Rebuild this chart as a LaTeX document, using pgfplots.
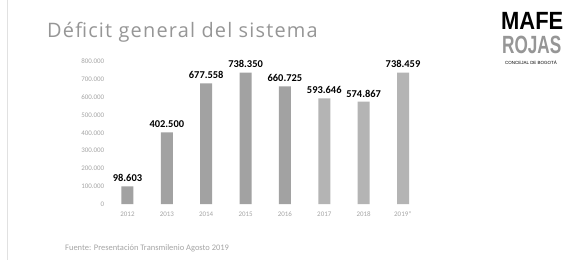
\documentclass[border=0pt]{standalone}
\usepackage{pgfplots}
\pgfplotsset{compat=1.18}
\usepackage{fontspec}
\setmainfont{Carlito}
\newfontfamily\titlefont[LetterSpace=6]{Open Sans}
\newfontfamily\logofont{Liberation Sans}
\definecolor{barA}{RGB}{162,162,162}
\definecolor{barB}{RGB}{180,180,180}
\definecolor{ticktxt}{RGB}{165,165,165}
\definecolor{titletxt}{RGB}{150,150,150}
\begin{document}
\begin{tikzpicture}
\path[use as bounding box, fill=white] (0,0) rectangle (571bp,260bp);
\draw[line width=1bp, draw={rgb,255:red,225;green,225;blue,225}] (7.5bp,0) -- (7.5bp,260bp);
\node[anchor=base west, inner sep=0, text=titletxt] at (47bp,222bp) {\titlefont\fontsize{20}{22}\selectfont Déficit general del sistema};
\node[anchor=base west, inner sep=0, xscale=0.88] at (501bp,230bp) {\logofont\bfseries\fontsize{25}{25}\selectfont MAFE};
\node[anchor=base west, inner sep=0, xscale=0.69, text={rgb,255:red,150;green,150;blue,150}] at (502bp,206bp) {\logofont\bfseries\fontsize{25}{25}\selectfont ROJAS};
\node[anchor=center, inner sep=0] at (531bp,197bp) {\logofont\fontsize{4.5}{5}\selectfont CONCEJAL DE BOGOTÁ};
\node[anchor=west, inner sep=0, text=ticktxt] at (65bp,12bp) {\fontsize{8.5}{10}\selectfont Fuente: Presentación Transmilenio Agosto 2019};
\begin{axis}[
  at={(107.8bp,56bp)}, anchor=south west,
  scale only axis, width=314.9bp, height=142.4bp,
  xmin=-0.5, xmax=7.5, ymin=0, ymax=800000,
  scaled y ticks=false,
  axis line style={draw=none}, major tick length=0pt,
  xtick={0,1,2,3,4,5,6,7},
  xticklabels={2012,2013,2014,2015,2016,2017,2018,2019*},
  ytick={0,100000,200000,300000,400000,500000,600000,700000,800000},
  yticklabels={0,100.000,200.000,300.000,400.000,500.000,600.000,700.000,800.000},
  tick label style={font=\fontsize{7}{8}\selectfont, text=ticktxt},
  yticklabel style={anchor=east},
  xticklabel style={yshift=-4bp},
  ybar, bar width=12bp,
  nodes near coords, point meta=explicit symbolic,
  every node near coord/.append style={font=\bfseries\fontsize{10.5}{12}\selectfont, text=black, yshift=1bp},
  clip=false,
]
\addplot[fill=barA, draw=none, bar shift=0pt] coordinates {
  (0,98603) [98.603]
  (1,402500) [402.500]
  (2,677558) [677.558]
  (3,738350) [738.350]
  (4,660725) [660.725]
};
\addplot[fill=barB, draw=none, bar shift=0pt] coordinates {
  (5,593646) [593.646]
  (6,574867) [574.867]
  (7,738459) [738.459]
};
\end{axis}
\end{tikzpicture}
\end{document}
